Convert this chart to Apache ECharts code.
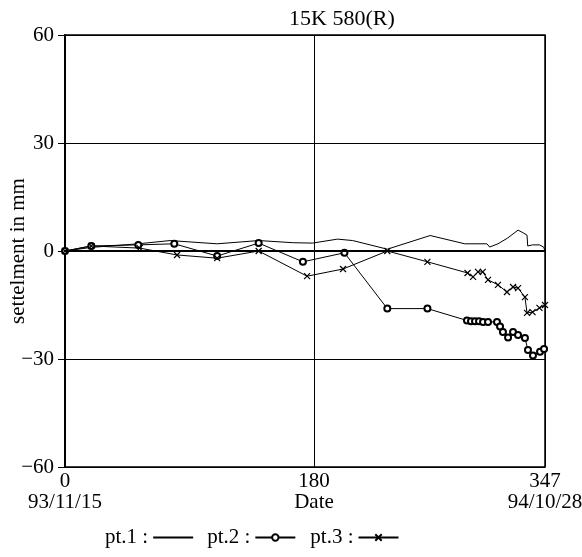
<!DOCTYPE html>
<html>
<head>
<meta charset="utf-8">
<script src="https://cdn.jsdelivr.net/npm/echarts@6/dist/echarts.min.js"></script>
<style>
html,body{margin:0;padding:0;background:#fff;}
#chart{width:582px;height:557px;}
</style>
</head>
<body>
<div id="chart"></div>
<script>
// ---- data (days since 93/11/15, settlement in mm) ----
const titleText = '15K 580(R)';
const yAxisName = 'settelment in mm';
const xTickValues = [0, 180, 347];
const xTickSecondLine = ['93/11/15', 'Date', '94/10/28'];
const yTickValues = [-60, -30, 0, 30, 60];

const pt1X = [0, 19, 53, 76, 110, 140, 165, 179, 197, 208, 233, 264, 289, 305, 307, 313, 320, 327.5, 331, 334, 334.5, 338, 343, 346, 347];
const pt1Y = [0, 1, 2, 2.9, 2, 2.9, 2.3, 2.2, 3.3, 2.9, 0.5, 4.3, 2, 2, 1.1, 2, 3.6, 5.8, 5.1, 4.4, 1.4, 1.7, 1.7, 1.1, 0];

const pt2X = [0, 19, 53, 79, 110, 140, 172, 202, 233, 262, 290.6, 293.5, 296.4, 299.3, 302.2, 305.8, 312.3, 314.5, 316.6, 320.3, 323.9, 327.5, 332.5, 334.7, 338.3, 343.4, 346.3];
const pt2Y = [0, 1.4, 1.7, 2, -1.4, 2.2, -3, -0.5, -16, -16, -19.3, -19.5, -19.5, -19.5, -19.7, -19.7, -19.7, -21, -22.5, -24, -22.5, -23.3, -24.2, -27.5, -29, -28, -27.2];

const pt3X = [0, 19, 54, 81, 110, 140, 175, 201, 233, 262, 291, 295, 298.6, 302, 305.8, 313, 319.5, 323.9, 327.5, 332.5, 334, 338, 343, 347];
const pt3Y = [0, 1.4, 0.8, -1.1, -2, 0, -7, -5, 0, -3, -6.1, -7.2, -5.8, -5.8, -8, -9.4, -11.4, -10, -10.3, -12.8, -17.2, -17, -15.8, -15];

const zeroLine = [0];

// ---- build ----
const zip = (xs, ys) => xs.map((x, i) => [x, ys[i]]);
const FONT = '"Liberation Serif", "DejaVu Serif", serif';
const FS = 21;
const crossPath = 'path://M0,0L10,10M10,0L0,10';

const chart = echarts.init(document.getElementById('chart'), null, {renderer: 'canvas'});
chart.setOption({
  backgroundColor: '#fff',
  animation: false,
  title: {
    text: titleText,
    left: 284,
    top: 3,
    textStyle: {fontFamily: FONT, fontSize: FS + 1, fontWeight: 'normal', color: '#000'}
  },
  legend: {
    left: 100,
    top: 522,
    align: 'right',
    itemGap: 14,
    itemWidth: 40,
    itemHeight: 8,
    formatter: n => n + ' :',
    textStyle: {fontFamily: FONT, fontSize: FS, color: '#000'},
    data: [
      {name: 'pt.1', icon: 'path://M0,0H40V2H0Z'},
      {name: 'pt.2'},
      {name: 'pt.3'}
    ]
  },
  grid: {left: 65, right: 37, top: 35, bottom: 90, show: true, borderColor: '#000', borderWidth: 1.5,
         containLabel: false, outerBoundsMode: 'none'},
  xAxis: {
    type: 'value',
    min: xTickValues[0],
    max: xTickValues[2],
    interval: xTickValues[1],
    axisLine: {show: true, lineStyle: {color: '#000', width: 1.5}},
    axisTick: {show: true, length: 4, lineStyle: {color: '#000'}},
    splitLine: {show: true, lineStyle: {color: '#000', width: 1}},
    axisLabel: {
      color: '#000', fontFamily: FONT, fontSize: FS, margin: 4, lineHeight: 21,
      showMaxLabel: true, showMinLabel: true,
      formatter: v => {
        const i = xTickValues.indexOf(v);
        return i >= 0 ? v + '\n' + xTickSecondLine[i] : '';
      }
    }
  },
  yAxis: {
    type: 'value',
    min: yTickValues[0],
    max: yTickValues[yTickValues.length - 1],
    interval: 30,
    name: yAxisName,
    nameLocation: 'middle',
    nameGap: 36,
    nameMoveOverlap: false,
    nameTextStyle: {fontFamily: FONT, fontSize: FS, color: '#000'},
    axisLine: {show: true, lineStyle: {color: '#000', width: 2}},
    axisTick: {show: true, length: 7, lineStyle: {color: '#000'}},
    splitLine: {show: true, lineStyle: {color: '#000', width: 1}},
    axisLabel: {
      color: '#000', fontFamily: FONT, fontSize: FS, margin: 11,
      formatter: v => String(v).replace('-', '\u2212')
    }
  },
  series: [
    {
      name: 'pt.1', type: 'line', data: zip(pt1X, pt1Y),
      showSymbol: false, symbol: 'none',
      lineStyle: {color: '#000', width: 1}, itemStyle: {color: '#000'},
      markLine: {
        silent: true, symbol: 'none', label: {show: false},
        lineStyle: {color: '#000', width: 2, type: 'solid'},
        data: zeroLine.map(v => ({yAxis: v}))
      }
    },
    {
      name: 'pt.2', type: 'line', data: zip(pt2X, pt2Y),
      symbol: 'emptyCircle', symbolSize: 6,
      lineStyle: {color: '#000', width: 1},
      itemStyle: {color: '#000', borderColor: '#000', borderWidth: 1}
    },
    {
      name: 'pt.3', type: 'line', data: zip(pt3X, pt3Y),
      symbol: crossPath, symbolSize: 6,
      lineStyle: {color: '#000', width: 1},
      itemStyle: {color: '#000', borderColor: '#000', borderWidth: 1.2}
    }
  ]
});
</script>
</body>
</html>
